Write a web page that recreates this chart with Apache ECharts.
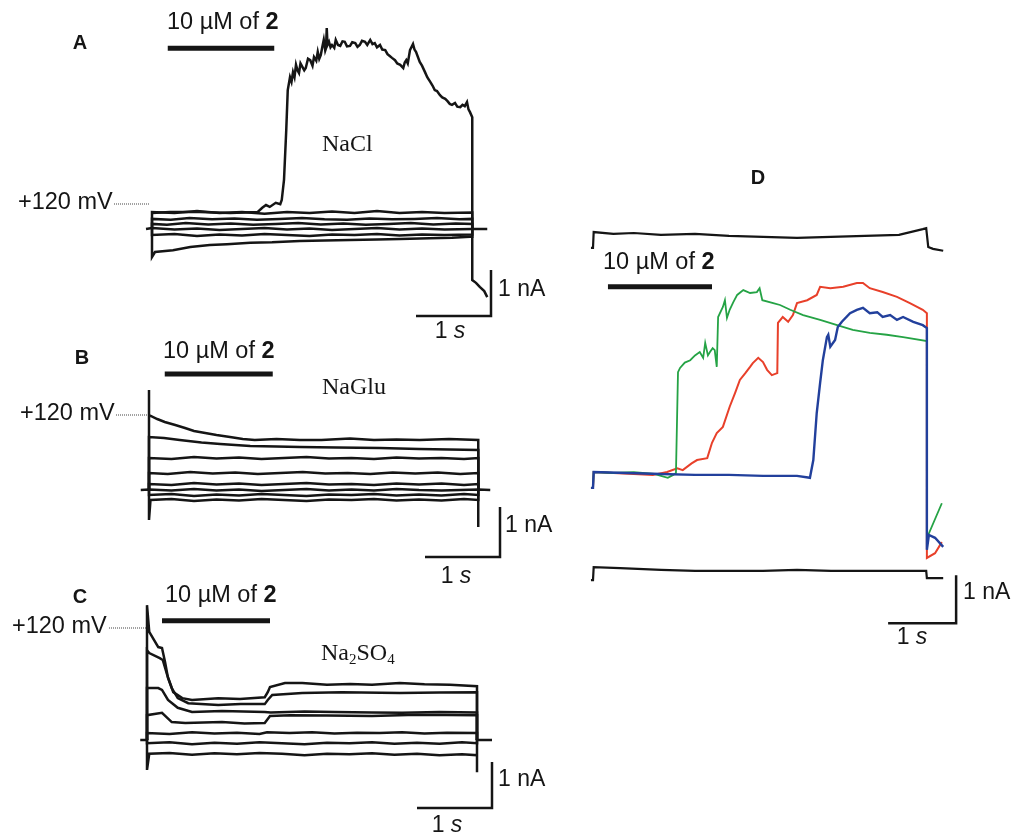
<!DOCTYPE html>
<html><head><meta charset="utf-8">
<script src="https://cdn.jsdelivr.net/npm/echarts@6/dist/echarts.min.js"></script>
<style>html,body{margin:0;padding:0;background:#fff}#c{width:1011px;height:836px}</style>
</head><body><div id="c"></div>
<script>
// ---------- Panel A (NaCl): time in s, current in nA ----------
const A_NACL = [[0,0.35],[0.24,0.37],[0.64,0.37],[1.04,0.35],[1.41,0.37],[1.47,0.46],[1.52,0.52],[1.57,0.48],[1.65,0.57],[1.71,0.54],[1.73,0.63],[1.76,1.07],[1.79,2.15],[1.81,3.02],[1.84,3.30],[1.86,3.2],[1.88,3.41],[1.9,3.3],[1.92,3.57],[1.94,3.45],[1.96,3.39],[1.98,3.6],[2.0,3.63],[2.03,3.45],[2.05,3.5],[2.08,3.7],[2.11,3.67],[2.14,3.55],[2.16,3.74],[2.19,3.66],[2.21,3.85],[2.23,3.7],[2.25,3.78],[2.27,3.95],[2.29,4.11],[2.31,3.88],[2.32,3.93],[2.33,4.37],[2.34,4.0],[2.36,4.07],[2.38,3.95],[2.4,4.0],[2.43,3.94],[2.45,4.11],[2.48,4.0],[2.51,3.98],[2.54,4.08],[2.57,4.07],[2.6,3.97],[2.64,3.98],[2.67,4.06],[2.71,4.04],[2.74,3.96],[2.77,4.0],[2.8,4.09],[2.84,4.07],[2.87,4.0],[2.91,4.11],[2.94,4.02],[2.97,4.04],[3.0,3.95],[3.04,4.0],[3.07,3.9],[3.11,3.89],[3.14,3.8],[3.17,3.76],[3.2,3.72],[3.24,3.67],[3.27,3.6],[3.31,3.57],[3.35,3.5],[3.37,3.62],[3.39,3.67],[3.41,3.6],[3.44,3.89],[3.48,4.02],[3.5,3.9],[3.52,3.85],[3.57,3.63],[3.6,3.55],[3.64,3.41],[3.67,3.3],[3.71,3.2],[3.74,3.12],[3.77,3.02],[3.8,3.0],[3.84,2.91],[3.87,2.86],[3.91,2.83],[3.94,2.78],[3.97,2.72],[4.0,2.7],[4.04,2.74],[4.07,2.66],[4.11,2.65],[4.14,2.7],[4.17,2.67],[4.2,2.76],[4.22,2.6],[4.24,2.54],[4.27,2.43],[4.27,-1.11],[4.32,-1.17],[4.37,-1.26],[4.43,-1.35],[4.47,-1.48]];
const A_T1 = [[0,0],[0,0.37],[0.3,0.35],[0.6,0.39],[0.9,0.35],[1.2,0.37],[1.5,0.33],[1.8,0.37],[2.1,0.35],[2.4,0.38],[2.7,0.35],[3.0,0.39],[3.3,0.35],[3.6,0.37],[3.9,0.35],[4.27,0.36],[4.27,0]];
const A_T2 = [[0,0],[0,0.22],[0.25,0.2],[0.5,0.24],[0.8,0.21],[1.1,0.23],[1.4,0.2],[1.7,0.22],[2.0,0.24],[2.3,0.21],[2.6,0.2],[2.9,0.23],[3.2,0.21],[3.5,0.22],[3.8,0.24],[4.1,0.21],[4.27,0.22],[4.27,0]];
const A_T3 = [[0,0],[0,0.11],[0.2,0.09],[0.45,0.13],[0.75,0.1],[1.05,0.12],[1.35,0.09],[1.65,0.11],[1.95,0.13],[2.25,0.1],[2.55,0.12],[2.85,0.09],[3.15,0.11],[3.45,0.13],[3.75,0.1],[4.05,0.12],[4.27,0.11],[4.27,0]];
const A_BASE = [[-0.08,0],[0,0.02],[0.3,-0.01],[0.6,0.01],[0.9,-0.02],[1.2,0.0],[1.5,0.02],[1.8,-0.01],[2.1,0.01],[2.4,-0.02],[2.7,0.0],[3.0,0.02],[3.3,-0.01],[3.6,0.01],[3.9,-0.01],[4.27,0.0],[4.47,0]];
const A_T5 = [[0,0],[0,-0.13],[0.3,-0.11],[0.6,-0.15],[0.9,-0.12],[1.2,-0.14],[1.5,-0.11],[1.8,-0.13],[2.1,-0.15],[2.4,-0.12],[2.7,-0.13],[3.0,-0.11],[3.3,-0.14],[3.6,-0.12],[3.9,-0.13],[4.27,-0.12],[4.27,0]];
const A_T6 = [[0,0],[0,-0.61],[0.04,-0.5],[0.28,-0.46],[0.51,-0.39],[0.77,-0.35],[1.0,-0.33],[1.31,-0.3],[1.6,-0.29],[1.97,-0.26],[2.3,-0.25],[2.64,-0.24],[3.0,-0.23],[3.31,-0.22],[3.7,-0.2],[4.0,-0.19],[4.24,-0.17],[4.27,-0.17],[4.27,0]];
const A_DRUG = [[0.21,3.93],[1.63,3.93]];
const A_SCALE = [[4.52,-0.89],[4.52,-1.89],[3.52,-1.89]];

// ---------- Panel B (NaGlu) ----------
const B_T1 = [[0,0],[0,2.0],[0,1.5],[0.11,1.42],[0.21,1.36],[0.35,1.3],[0.48,1.24],[0.6,1.18],[0.75,1.14],[0.9,1.1],[1.08,1.06],[1.25,1.02],[1.41,1.0],[1.7,1.02],[2.01,1.0],[2.3,1.0],[2.68,1.03],[3.0,1.0],[3.3,1.01],[3.61,1.0],[4.0,1.02],[4.39,1.0],[4.39,-0.74],[4.39,0]];
const B_T2 = [[0,0],[0,1.06],[0.2,1.04],[0.41,1.0],[0.7,0.95],[0.95,0.92],[1.35,0.88],[1.7,0.87],[2.01,0.86],[2.5,0.85],[3.08,0.84],[3.6,0.82],[4.0,0.81],[4.39,0.8],[4.39,0]];
const B_T3 = [[0,0],[0,0.64],[0.3,0.62],[0.6,0.66],[0.9,0.63],[1.2,0.65],[1.5,0.62],[1.8,0.64],[2.1,0.66],[2.4,0.63],[2.7,0.64],[3.0,0.62],[3.3,0.65],[3.6,0.63],[3.9,0.64],[4.2,0.62],[4.39,0.64],[4.39,0]];
const B_T4 = [[0,0],[0,0.34],[0.25,0.32],[0.55,0.36],[0.85,0.33],[1.15,0.35],[1.45,0.32],[1.75,0.34],[2.05,0.36],[2.35,0.33],[2.65,0.34],[2.95,0.32],[3.25,0.35],[3.55,0.33],[3.85,0.35],[4.15,0.32],[4.39,0.34],[4.39,0]];
const B_T5 = [[0,0],[0,0.12],[0.3,0.1],[0.6,0.14],[0.9,0.11],[1.2,0.13],[1.5,0.1],[1.8,0.12],[2.1,0.14],[2.4,0.11],[2.7,0.12],[3.0,0.1],[3.3,0.13],[3.6,0.11],[3.9,0.13],[4.2,0.1],[4.39,0.12],[4.39,0]];
const B_BASE = [[-0.11,0],[0,0.01],[0.3,-0.01],[0.6,0.02],[0.9,-0.01],[1.2,0.01],[1.5,-0.02],[1.8,0.0],[2.1,0.02],[2.4,-0.01],[2.7,0.01],[3.0,-0.01],[3.3,0.02],[3.6,0.0],[3.9,-0.01],[4.39,0.01],[4.55,0]];
const B_T7 = [[0,0],[0,-0.1],[0.3,-0.08],[0.6,-0.12],[0.9,-0.09],[1.2,-0.11],[1.5,-0.08],[1.8,-0.1],[2.1,-0.12],[2.4,-0.09],[2.7,-0.1],[3.0,-0.08],[3.3,-0.11],[3.6,-0.09],[3.9,-0.11],[4.2,-0.08],[4.39,-0.1],[4.39,0]];
const B_T8 = [[0,0],[0,-0.6],[0.02,-0.2],[0.3,-0.18],[0.6,-0.22],[0.9,-0.19],[1.2,-0.21],[1.5,-0.18],[1.8,-0.2],[2.1,-0.22],[2.4,-0.19],[2.7,-0.2],[3.0,-0.18],[3.3,-0.21],[3.6,-0.19],[3.9,-0.21],[4.2,-0.18],[4.39,-0.2],[4.39,0]];
const B_DRUG = [[0.21,2.32],[1.65,2.32]];
const B_SCALE = [[4.68,-0.34],[4.68,-1.34],[3.68,-1.34]];

// ---------- Panel C (Na2SO4) ----------
const C_A = [[0,0],[0,2.93],[0.03,2.35],[0.15,2.02],[0.2,2.0],[0.24,1.7],[0.28,1.35],[0.35,1.04],[0.47,0.91],[0.6,0.87],[0.95,0.91],[1.24,0.89],[1.57,0.93],[1.61,1.04],[1.64,1.15],[1.84,1.24],[2.07,1.24],[2.4,1.2],[2.71,1.22],[3.0,1.2],[3.37,1.24],[3.7,1.21],[4.04,1.2],[4.4,1.17],[4.4,0]];
const C_B = [[0,0],[0,1.95],[0.03,1.89],[0.17,1.78],[0.21,1.74],[0.27,1.41],[0.33,1.13],[0.41,0.91],[0.55,0.8],[0.95,0.76],[1.25,0.78],[1.57,0.78],[1.61,0.87],[1.67,0.98],[2.07,1.02],[2.6,1.04],[3.37,1.02],[3.9,1.03],[4.4,1.04],[4.4,0]];
const C_C = [[0,0],[0,1.13],[0.15,1.13],[0.2,1.09],[0.28,0.87],[0.41,0.7],[0.6,0.61],[1.0,0.63],[1.57,0.61],[1.65,0.6],[2.1,0.62],[2.5,0.61],[3.0,0.6],[3.4,0.59],[3.9,0.61],[4.4,0.6],[4.4,0]];
const C_D = [[0,0],[0,0.54],[0.2,0.59],[0.33,0.39],[0.51,0.37],[1.0,0.39],[1.3,0.36],[1.57,0.37],[1.64,0.52],[1.91,0.54],[2.4,0.53],[3.0,0.52],[3.6,0.55],[4.4,0.54],[4.4,0]];
const C_E = [[0,0],[0,0.15],[0.3,0.13],[0.6,0.17],[0.9,0.14],[1.2,0.16],[1.5,0.13],[1.6,0.17],[1.9,0.15],[2.2,0.17],[2.5,0.14],[2.8,0.16],[3.1,0.15],[3.4,0.17],[3.7,0.14],[4.0,0.16],[4.4,0.15],[4.4,0]];
const C_F = [[-0.09,0],[0,0],[0,-0.07],[0.3,-0.05],[0.6,-0.09],[0.9,-0.06],[1.2,-0.08],[1.5,-0.05],[1.8,-0.07],[2.1,-0.09],[2.4,-0.06],[2.7,-0.07],[3.0,-0.05],[3.3,-0.08],[3.6,-0.06],[3.9,-0.08],[4.2,-0.05],[4.4,-0.07],[4.4,0],[4.6,0]];
const C_G = [[0,0],[0,-0.65],[0.03,-0.3],[0.3,-0.28],[0.6,-0.32],[0.9,-0.29],[1.2,-0.31],[1.5,-0.28],[1.8,-0.3],[2.1,-0.33],[2.4,-0.3],[2.7,-0.31],[3.0,-0.29],[3.3,-0.32],[3.6,-0.3],[3.9,-0.33],[4.2,-0.31],[4.4,-0.33],[4.4,-0.7],[4.4,0]];
const C_DRUG = [[0.2,2.59],[1.64,2.59]];
const C_SCALE = [[4.6,-0.48],[4.6,-1.48],[3.6,-1.48]];

// ---------- Panel D ----------
const D_TOP = [[-0.03,4.69],[0,4.69],[0.01,5.02],[0.3,4.98],[0.6,5.0],[1.0,4.96],[1.5,4.98],[2.0,4.94],[2.5,4.92],[3.0,4.9],[3.5,4.92],[4.0,4.94],[4.5,4.96],[4.85,5.08],[4.9,5.1],[4.93,4.71],[5.0,4.67],[5.15,4.63]];
const D_BOTTOM = [[-0.03,-2.23],[0,-2.23],[0.01,-1.96],[0.4,-1.98],[1.0,-2.02],[1.5,-2.04],[2.0,-2.04],[2.5,-2.04],[3.0,-2.02],[3.5,-2.04],[4.0,-2.04],[4.5,-2.04],[4.9,-2.04],[4.91,-2.19],[5.15,-2.19]];
const D_GREEN = [[-0.03,-0.31],[0,-0.31],[0.01,0.02],[0.3,0.0],[0.6,0.02],[0.9,-0.02],[1.0,-0.06],[1.1,-0.1],[1.18,-0.04],[1.22,0.0],[1.25,2.1],[1.28,2.19],[1.35,2.3],[1.43,2.35],[1.5,2.45],[1.57,2.52],[1.62,2.4],[1.65,2.71],[1.69,2.45],[1.72,2.52],[1.76,2.6],[1.79,2.56],[1.82,2.21],[1.84,3.25],[1.91,3.46],[1.94,3.6],[1.97,3.23],[2.01,3.4],[2.06,3.55],[2.12,3.71],[2.21,3.81],[2.31,3.75],[2.41,3.77],[2.45,3.85],[2.49,3.6],[2.65,3.54],[2.75,3.5],[2.9,3.4],[3.09,3.29],[3.34,3.19],[3.59,3.08],[3.82,2.98],[4.07,2.92],[4.32,2.88],[4.56,2.83],[4.91,2.75],[4.91,-1.5],[4.93,-1.29],[5.13,-0.63]];
const D_RED = [[-0.03,-0.31],[0,-0.31],[0.01,0.02],[0.3,0.0],[0.6,-0.02],[0.88,-0.04],[1.09,0.02],[1.24,0.1],[1.32,0.06],[1.45,0.2],[1.53,0.27],[1.68,0.31],[1.75,0.63],[1.82,0.83],[1.91,0.96],[2.01,1.38],[2.09,1.67],[2.16,1.94],[2.24,2.08],[2.31,2.21],[2.35,2.29],[2.43,2.4],[2.5,2.31],[2.56,2.15],[2.63,2.04],[2.71,2.08],[2.72,3.13],[2.79,3.25],[2.87,3.15],[2.94,3.29],[3.0,3.54],[3.15,3.6],[3.29,3.71],[3.34,3.88],[3.49,3.85],[3.68,3.88],[3.88,3.96],[3.97,3.96],[4.07,3.85],[4.26,3.77],[4.47,3.67],[4.66,3.54],[4.85,3.4],[4.91,3.33],[4.91,-1.77],[5.03,-1.67],[5.13,-1.44]];
const D_BLUE = [[-0.03,-0.31],[0,-0.31],[0.01,0.02],[0.5,0.0],[1.0,-0.02],[1.5,-0.04],[2.0,-0.04],[2.5,-0.06],[3.0,-0.06],[3.19,-0.1],[3.24,0.27],[3.29,1.25],[3.34,1.88],[3.38,2.35],[3.44,2.83],[3.46,2.88],[3.49,2.63],[3.56,2.77],[3.6,3.04],[3.66,3.15],[3.78,3.33],[3.88,3.4],[3.97,3.44],[4.07,3.33],[4.18,3.35],[4.26,3.25],[4.37,3.29],[4.47,3.19],[4.56,3.25],[4.71,3.15],[4.85,3.08],[4.91,3.02],[4.91,-1.6],[4.94,-1.29],[5.03,-1.35],[5.15,-1.54]];
const D_DRUG = [[0.22,3.88],[1.75,3.88]];
const D_SCALE = [[5.34,-2.13],[5.34,-3.13],[4.34,-3.13]];

const BLACK = '#151515';
const SANS = '"Liberation Sans", Arial, sans-serif';
const SERIF = '"Liberation Serif", "Times New Roman", serif';

function ln(data, g, color, width, z) {
  return {type:'line', xAxisIndex:g, yAxisIndex:g, data:data, showSymbol:false, symbol:'none',
    clip:false, silent:true, animation:false, z:z||2,
    lineStyle:{color:color, width:width, join:'miter'}};
}

const series = [];
[A_T6, A_T5, A_BASE, A_T3, A_T2, A_T1].forEach(d => series.push(ln(d,0,BLACK,2.5)));
series.push(ln(A_NACL,0,BLACK,2.5,3));
series.push(ln(A_DRUG,0,BLACK,5));
series.push(ln(A_SCALE,0,BLACK,2.5));
[B_T8, B_T7, B_BASE, B_T5, B_T4, B_T3, B_T2, B_T1].forEach(d => series.push(ln(d,1,BLACK,2.5)));
series.push(ln(B_DRUG,1,BLACK,5));
series.push(ln(B_SCALE,1,BLACK,2.5));
[C_G, C_F, C_E, C_D, C_C, C_B, C_A].forEach(d => series.push(ln(d,2,BLACK,2.5)));
series.push(ln(C_DRUG,2,BLACK,5));
series.push(ln(C_SCALE,2,BLACK,2.5));
series.push(ln(D_TOP,3,BLACK,2.2));
series.push(ln(D_BOTTOM,3,BLACK,2.2));
series.push(ln(D_RED,3,'#e8402a',2,3));
series.push(ln(D_GREEN,3,'#25a345',1.8,4));
series.push(ln(D_BLUE,3,'#22409c',2.4,5));
series.push(ln(D_DRUG,3,BLACK,5));
series.push(ln(D_SCALE,3,BLACK,2.5));

const grids = [
  {left:137, top:22, width:375, height:299},
  {left:134, top:340, width:375, height:250},
  {left:132, top:579, width:375, height:253},
  {left:579.4, top:161, width:394.4, height:480}
];
const xr = [[-0.2,4.8],[-0.2,4.8],[-0.2,4.8],[-0.2,5.6]];
const yr = [[-2,4.5],[-2,3],[-2,3.5],[-3.5,6.5]];

function txt(x, y, text, rich, align) {
  return {type:'text', x:x, y:y, silent:true, style:{text:text, rich:rich, fill:BLACK,
    align:align||'left', verticalAlign:'middle', font:'23px ' + SANS}};
}
const richDrug = {n:{fontSize:23.5, fontFamily:SANS, fill:BLACK}, b:{fontSize:23.5, fontFamily:SANS, fontWeight:'bold', fill:BLACK}};
const richS = {n:{fontSize:23, fontFamily:SANS, fill:BLACK}, i:{fontSize:23, fontFamily:SANS, fontStyle:'italic', fill:BLACK}};
const richSerif = {n:{fontSize:24, fontFamily:SERIF, fill:BLACK}};
const richSub = {n:{fontSize:24, fontFamily:SERIF, fill:BLACK, lineHeight:28, verticalAlign:'middle'},
                 s:{fontSize:15, fontFamily:SERIF, fill:BLACK, verticalAlign:'bottom', lineHeight:22}};
const richBold = {b:{fontSize:20, fontFamily:SANS, fontWeight:'bold', fill:BLACK}};
const richMv = {n:{fontSize:23.5, fontFamily:SANS, fill:BLACK}};
function dots(x1, x2, y) {
  return {type:'line', silent:true, shape:{x1:x1, y1:y, x2:x2, y2:y}, style:{stroke:'#444', lineWidth:1, lineDash:[1,1]}};
}

const graphic = [
  txt(80,43,'{b|A}',richBold,'center'),
  txt(167,23,'{n|10 µM of }{b|2}',richDrug),
  txt(322,145,'{n|NaCl}',richSerif),
  txt(18,203,'{n|+120 mV}',richMv),
  dots(114,149,204),
  txt(498,290,'{n|1 nA}',richS),
  txt(450,332,'{n|1 }{i|s}',richS,'center'),

  txt(82,358,'{b|B}',richBold,'center'),
  txt(163,352,'{n|10 µM of }{b|2}',richDrug),
  txt(322,388,'{n|NaGlu}',richSerif),
  txt(20,414,'{n|+120 mV}',richMv),
  dots(116,148,415),
  txt(505,526,'{n|1 nA}',richS),
  txt(456,577,'{n|1 }{i|s}',richS,'center'),

  txt(80,597,'{b|C}',richBold,'center'),
  txt(165,596,'{n|10 µM of }{b|2}',richDrug),
  txt(321,654,'{n|Na}{s|2}{n|SO}{s|4}',richSub),
  txt(12,627,'{n|+120 mV}',richMv),
  dots(109,146,628),
  txt(498,780,'{n|1 nA}',richS),
  txt(447,826,'{n|1 }{i|s}',richS,'center'),

  txt(758,178,'{b|D}',richBold,'center'),
  txt(603,263,'{n|10 µM of }{b|2}',richDrug),
  txt(963,593,'{n|1 nA}',richS),
  txt(912,638,'{n|1 }{i|s}',richS,'center')
];

const chart = echarts.init(document.getElementById('c'), null, {renderer:'canvas'});
chart.setOption({
  backgroundColor:'#ffffff',
  animation:false,
  grid: grids,
  xAxis: grids.map((g,i)=>({type:'value', gridIndex:i, min:xr[i][0], max:xr[i][1], show:false})),
  yAxis: grids.map((g,i)=>({type:'value', gridIndex:i, min:yr[i][0], max:yr[i][1], show:false})),
  series: series,
  graphic: graphic
});
</script>
</body></html>
